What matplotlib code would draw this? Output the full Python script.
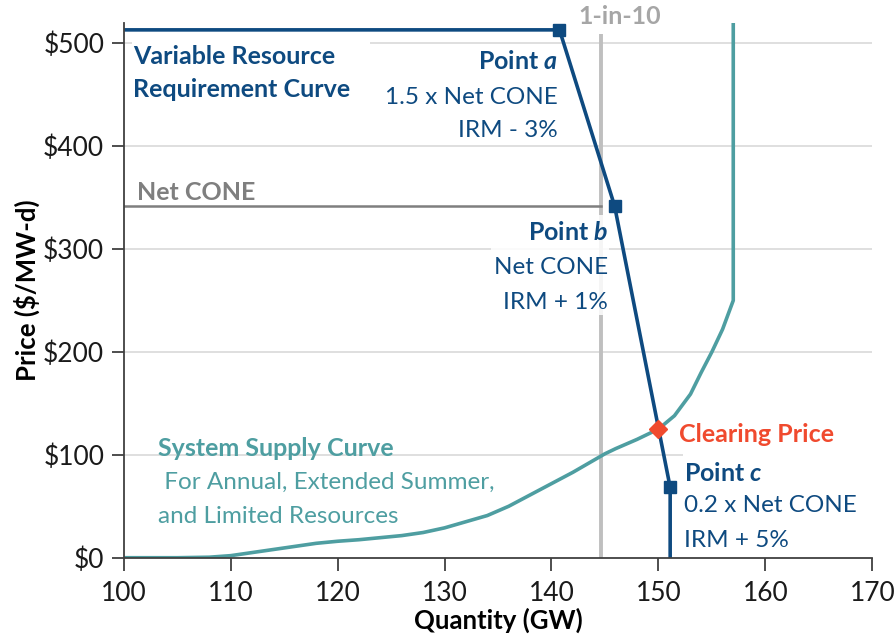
import matplotlib
matplotlib.use("Agg")
import matplotlib.pyplot as plt
from matplotlib.patches import Rectangle

plt.rcParams['font.family'] = ['Lato', 'DejaVu Sans']
plt.rcParams['mathtext.fontset'] = 'custom'
plt.rcParams['mathtext.it'] = 'Lato:italic:bold'
plt.rcParams['mathtext.rm'] = 'Lato:bold'

# ---- data ----
net_cone = 342
vrr_x = [100, 140.75, 145.9, 151.1, 151.1]
vrr_y = [513, 513, 342, 68.4, 0]
pt_x = [140.75, 145.9, 151.1]
pt_y = [513, 342, 68.4]

supply_x = [100, 105, 108, 110, 112, 114, 116, 118, 120, 122, 124, 126, 128, 130,
            132, 134, 136, 138, 140, 142, 144, 145, 146, 148, 150, 151.5, 153,
            154, 155, 156, 157, 157]
supply_y = [0, 0, 0.5, 2, 5, 8, 11, 14, 16, 17.5, 19.5, 21.5, 24.5, 29,
            35, 41, 50, 61, 72, 83, 95, 101, 106, 115, 125, 138, 159,
            180, 200, 222, 250, 520]

clear_x, clear_y = 150.0, 125.5
one_in_ten = 144.65

xticks = [100, 110, 120, 130, 140, 150, 160, 170]
yticks = [0, 100, 200, 300, 400, 500]
ytick_labels = ['$0', '$100', '$200', '$300', '$400', '$500']

NAVY = '#0E4A80'
TEAL = '#4E9EA1'
RED = '#F04A2E'
GRAY = '#7F7F7F'
LGRAY = '#BFBFBF'

fig = plt.figure(figsize=(8.94, 6.35), dpi=100)
ax = fig.add_axes([0.1384, 0.1217, 0.8373, 0.8426])
ax.set_xlim(100, 170)
ax.set_ylim(0, 520)

for yt in yticks[1:]:
    ax.axhline(yt, color='#D9D9D9', lw=1.2, zorder=0.5)

# 1-in-10 line and Net CONE line
ax.plot([one_in_ten, one_in_ten], [0, 509], color=LGRAY, lw=2.8, zorder=1.2, solid_capstyle='butt')
ax.plot([100, one_in_ten], [net_cone, net_cone], color=GRAY, lw=1.8, zorder=1.3)

# white label boxes
ax.add_patch(Rectangle((100.75, 440), 22.3, 68, facecolor='white', edgecolor='none', zorder=1.0))
ax.add_patch(Rectangle((134.3, 236), 11.1, 97, facecolor='white', edgecolor='none', alpha=0.85, zorder=1.4))
ax.add_patch(Rectangle((152.3, 3), 17.7, 101.5, facecolor='white', edgecolor='none', zorder=1.0))

ax.plot(supply_x, supply_y, color=TEAL, lw=2.6, zorder=2, solid_joinstyle='round')
ax.plot(vrr_x, vrr_y, color=NAVY, lw=2.6, zorder=3)
ax.plot(pt_x, pt_y, 's', color=NAVY, ms=9, zorder=4)
ax.plot([clear_x], [clear_y], 'D', color=RED, ms=9, zorder=5)

for s in ['top', 'right']:
    ax.spines[s].set_visible(False)
for s in ['left', 'bottom']:
    ax.spines[s].set_color('#404040')
    ax.spines[s].set_linewidth(1.3)
    ax.spines[s].set_zorder(6)

ax.set_xticks(xticks)
ax.set_yticks(yticks)
ax.set_yticklabels(ytick_labels)
ax.tick_params(axis='both', direction='out', length=9, width=1.3, color='#404040',
               labelsize=19, labelcolor='#1A1A1A')
ax.tick_params(axis='x', pad=8)
ax.tick_params(axis='y', pad=5)
ax.set_xlabel('Quantity (GW)', fontsize=18.5, fontweight='bold', labelpad=1)
ax.set_ylabel('Price ($/MW-d)', fontsize=18.5, fontweight='bold', labelpad=2)

FSB = 18
FSR = 17.5

def lines(x, ys, texts, color, ha, weights):
    for y, t, w in zip(ys, texts, weights):
        ax.text(x, y, t, color=color, ha=ha, va='center',
                fontsize=FSB if w == 'bold' else FSR, fontweight=w, zorder=7)

lines(100.87, [487.6, 454.6], ['Variable Resource', 'Requirement Curve'], NAVY, 'left', ['bold', 'bold'])
lines(140.62, [481.8, 447.7, 415.6], ['Point $\\mathit{a}$', '1.5 x Net CONE', 'IRM - 3%'], NAVY, 'right', ['bold', 'normal', 'normal'])
lines(145.3, [315.6, 281.6, 248.5], ['Point $\\mathit{b}$', 'Net CONE', 'IRM + 1%'], NAVY, 'right', ['bold', 'normal', 'normal'])
lines(152.4, [82.3, 50.3, 17.2], ['Point $\\mathit{c}$', '0.2 x Net CONE', 'IRM + 5%'], NAVY, 'left', ['bold', 'normal', 'normal'])
lines(151.94, [119.3], ['Clearing Price'], RED, 'left', ['bold'])
lines(103.2, [106.6, 73.6, 40.5], ['System Supply Curve', ' For Annual, Extended Summer,', 'and Limited Resources'], TEAL, 'left', ['bold', 'normal', 'normal'])
lines(101.24, [355.4], ['Net CONE'], GRAY, 'left', ['bold'])
t = ax.text(146.4, 525.6, '1-in-10', color='#A6A6A6', ha='center', va='center', fontsize=FSB, fontweight='bold', zorder=7)
t.set_clip_on(False)

fig.savefig('out.png', dpi=100)
